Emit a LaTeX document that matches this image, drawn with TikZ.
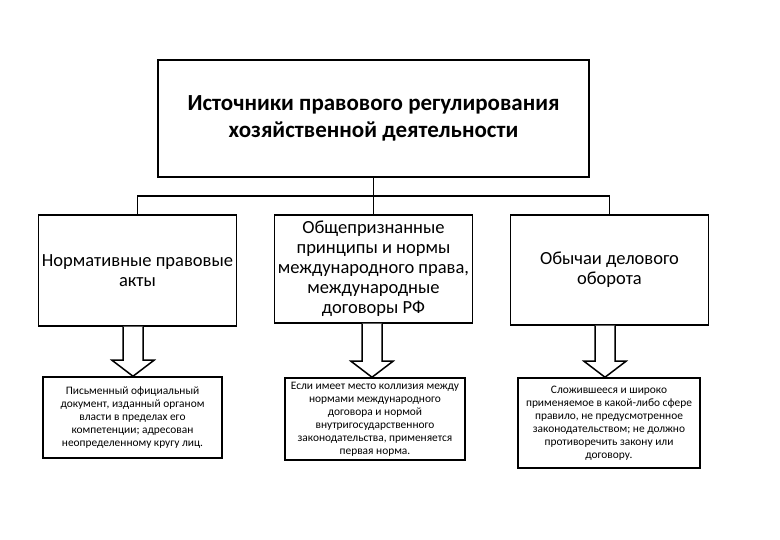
\documentclass[tikz,border=0pt]{standalone}
\usepackage{fontspec}
\setmainfont{Carlito}
\usetikzlibrary{calc}

\tikzset{
	mainbox/.style={draw, line width=1.5pt, align=center, inner sep=0pt,
		minimum width=431pt, minimum height=117pt,
		font=\bfseries\fontsize{23}{27}\selectfont},
	srcbox/.style={draw, line width=1.5pt, align=center, inner sep=0pt,
		minimum width=198pt, font=\fontsize{18.5}{20}\selectfont},
	notebox/.style={draw, line width=1.5pt, align=center, inner sep=0pt,
		font=\fontsize{11.4}{13}\selectfont},
	blockarrow/.style={draw, line width=1.5pt, fill=white, line join=miter},
}

\begin{document}
\begin{tikzpicture}[x=1pt, y=-1pt]
	\useasboundingbox[fill=white] (0, 0) rectangle (780, 540);
	% top level
	\node[mainbox] (top) at (373.5, 118.5) {Источники правового регулирования\\хозяйственной деятельности};
	% sources
	\node[srcbox, minimum height=111pt] (acts) at (137.5, 270.5) {Нормативные правовые\\акты};
	\node[srcbox, minimum height=108pt] (intl) at (373.5, 269) {Общепризнанные\\принципы и нормы\\международного права,\\международные\\договоры РФ};
	\node[srcbox, minimum height=110pt] (custom) at (609.5, 270) {Обычаи делового\\оборота};
	% notes
	\node[notebox, minimum width=179pt, minimum height=81pt] (actsnote) at (132.5, 417.5) {Письменный официальный\\документ, изданный органом\\власти в пределах его\\компетенции; адресован\\неопределенному кругу лиц.};
	\node[notebox, minimum width=180pt, minimum height=82pt] (intlnote) at (375, 419) {Если имеет место коллизия между\\нормами международного\\договора и нормой\\внутригосударственного\\законодательства, применяется\\первая норма.};
	\node[notebox, minimum width=182pt, minimum height=90pt] (customnote) at (609, 423) {Сложившееся и широко\\применяемое в какой-либо сфере\\правило, не предусмотренное\\законодательством; не должно\\противоречить закону или\\договору.};
	% bus
	\coordinate (bus) at (0, 196);
	\draw[line width=1.2pt] (top.south) -- (top.south |- bus);
	\draw[line width=1.2pt] (acts.north) -- (acts.north |- bus) -- (custom.north |- bus) -- (custom.north);
	\draw[line width=1.2pt] (intl.north) -- (intl.north |- bus);
	% block arrows
	\foreach \up/\low/\dx in {acts/actsnote/-4.5, intl/intlnote/-1.5, custom/customnote/-4.5} {
		\coordinate (s) at ($(\up.south) + (\dx, 0)$);
		\coordinate (t) at (s |- \low.north);
		\draw[blockarrow] ($(s) + (-10, 0)$) -- ($(t) + (-10, -16)$) -- ($(t) + (-21, -16)$) -- (t)
			-- ($(t) + (21, -16)$) -- ($(t) + (10, -16)$) -- ($(s) + (10, 0)$);
	}
\end{tikzpicture}
\end{document}
